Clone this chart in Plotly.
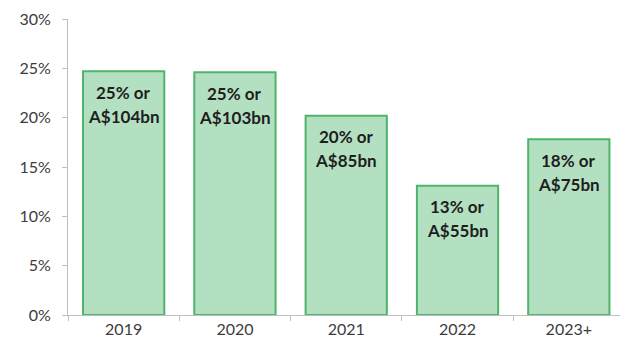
import plotly.graph_objects as go

# Share of total by period, with dollar amount
periods = ["2019", "2020", "2021", "2022", "2023+"]
share_pct = [24.7, 24.6, 20.2, 13.1, 17.8]
amount_bn = [104, 103, 85, 55, 75]
y_ticks = [0, 5, 10, 15, 20, 25, 30]

fig = go.Figure(
    go.Bar(
        x=periods,
        y=share_pct,
        width=0.73,
        marker=dict(color="#b4e0c2", line=dict(color="#4fb46b", width=2)),
        hoverinfo="skip",
    )
)
fig.update_xaxes(type="category")

# Two-line value labels placed just under each bar top
# (category index used for x so "2019" is not read as a number)
label_font = dict(family="Lato", size=17, color="#1e1e1e", weight="bold")
for i, (s, a) in enumerate(zip(share_pct, amount_bn)):
    fig.add_annotation(x=i, y=s, text=f"{s:.0f}% or", showarrow=False,
                       yanchor="middle", yshift=-21, font=label_font)
    fig.add_annotation(x=i, y=s, text=f"A${a}bn", showarrow=False,
                       yanchor="middle", yshift=-45, font=label_font)

fig.update_layout(
    width=620,
    height=349,
    margin=dict(l=68, r=0, t=19, b=34),
    paper_bgcolor="white",
    plot_bgcolor="white",
    showlegend=False,
    font=dict(family="Lato", size=16, color="#3c3c3c"),
)

fig.update_xaxes(
    range=[-0.5, 4.46],
    showline=True,
    linecolor="#bfbfbf",
    linewidth=1,
    ticks="outside",
    tickson="boundaries",
    ticklen=5,
    tickcolor="#bfbfbf",
    showgrid=False,
    tickfont=dict(family="Lato", size=16, color="#3c3c3c"),
)

fig.update_yaxes(
    range=[0, 30],
    tickvals=y_ticks,
    ticktext=[f"{v}%" for v in y_ticks],
    showline=True,
    linecolor="#bfbfbf",
    linewidth=1,
    ticks="outside",
    ticklen=5,
    tickcolor="#bfbfbf",
    showgrid=False,
    zeroline=False,
    ticklabelstandoff=8,
    tickfont=dict(family="Lato", size=16, color="#3c3c3c"),
)

fig.write_html("out.html")
